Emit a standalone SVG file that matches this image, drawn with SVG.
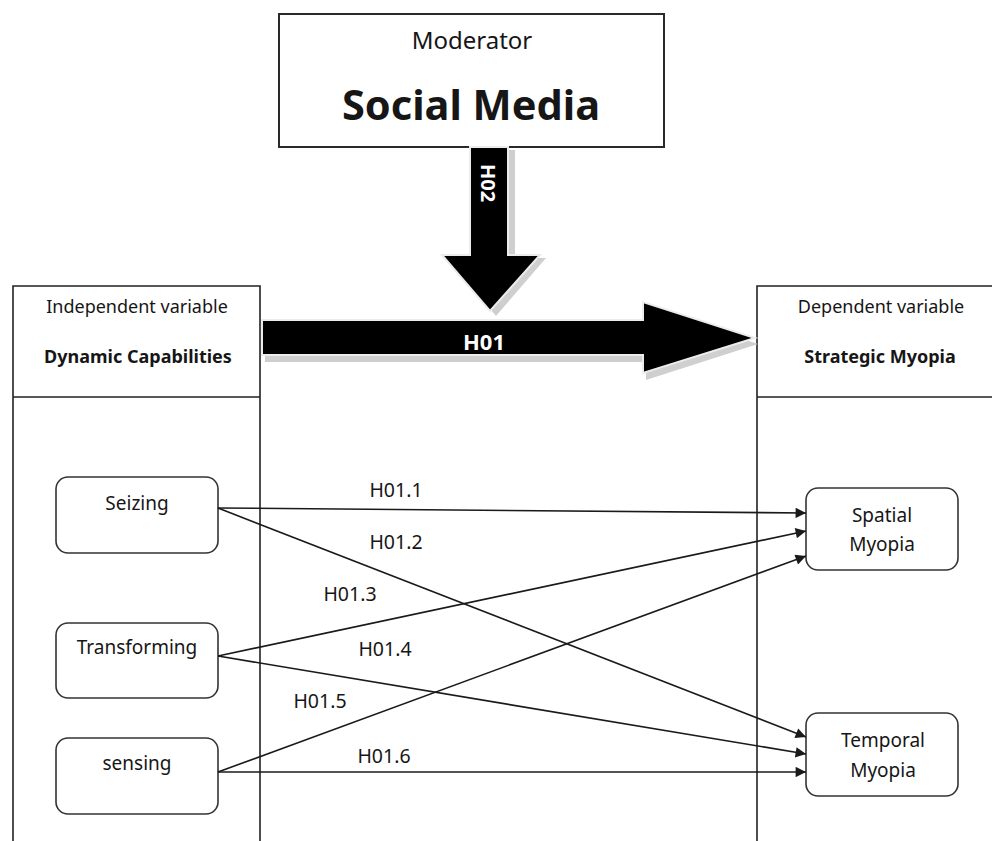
<svg xmlns="http://www.w3.org/2000/svg" width="992" height="841" viewBox="0 0 992 841">
<defs>
<style>
.t{font-family:"Noto Sans","Open Sans","Liberation Sans",sans-serif;fill:#161616;text-anchor:middle}
.b{font-weight:bold}
.box{fill:#fff;stroke:#333;stroke-width:1.6}
.col{fill:none;stroke:#222;stroke-width:1.6}
.con{fill:none;stroke:#1a1a1a;stroke-width:1.6;marker-end:url(#ah)}
.lbl{font-size:19.5px}
.nd{font-size:19px}
.big{fill:#000;stroke:#ececec;stroke-width:2}
.shadow{fill:#cfcfcf}
</style>
<marker id="ah" viewBox="0 0 10 10" refX="10" refY="5" markerWidth="7.5" markerHeight="6.5" markerUnits="strokeWidth" orient="auto">
<path d="M0,0 L10,5 L0,10 z" fill="#1a1a1a"/>
</marker>
</defs>
<rect width="992" height="841" fill="#fff"/>

<g id="independent-column">
<path class="col" d="M13,841 V286 H260 V841 M13,397 H260"/>
<text class="t" x="137" y="313" font-size="18">Independent variable</text>
<text class="t b" x="138" y="363" font-size="18">Dynamic Capabilities</text>
</g>

<g id="dependent-column">
<path class="col" d="M757,841 V286 H992 M757,397 H992"/>
<text class="t" x="881" y="313" font-size="18">Dependent variable</text>
<text class="t b" x="880" y="363" font-size="18">Strategic Myopia</text>
</g>

<g id="moderator">
<rect x="279" y="14" width="385" height="133" fill="#fff" stroke="#2a2a2a" stroke-width="2"/>
<text class="t" x="472" y="49" font-size="24">Moderator</text>
<text class="t b" x="471" y="120" font-size="42" textLength="258" lengthAdjust="spacingAndGlyphs">Social Media</text>
</g>

<g id="arrow-H02">
<polygon class="shadow" points="476,150 515,150 515,258 546,258 496,316 448,258 476,258"/>
<polygon class="big" points="470,147 508,147 508,255 540,255 490,311 442,255 470,255"/>
<text class="t b" x="0" y="0" font-size="20" transform="translate(481,183) rotate(90)" style="fill:#fff">H02</text>
</g>

<g id="arrow-H01">
<polygon class="shadow" points="265,326 646,326 646,308 758,344 646,380 646,362 265,362"/>
<polygon class="big" points="262,320 643,320 643,302 755,338 643,373 643,355 262,355"/>
<text class="t b" x="484" y="350" font-size="22" style="fill:#fff">H01</text>
</g>

<g id="seizing">
<rect class="box" x="56" y="477" width="162" height="76" rx="12"/>
<text class="t nd" x="137" y="510">Seizing</text>
</g>
<g id="transforming">
<rect class="box" x="56" y="623" width="162" height="75" rx="12"/>
<text class="t nd" x="137" y="654">Transforming</text>
</g>
<g id="sensing">
<rect class="box" x="56" y="738" width="162" height="76" rx="12"/>
<text class="t nd" x="137" y="770">sensing</text>
</g>
<g id="spatial-myopia">
<rect class="box" x="806" y="488" width="152" height="82" rx="12"/>
<text class="t nd" x="882" y="522">Spatial</text>
<text class="t nd" x="882" y="551">Myopia</text>
</g>
<g id="temporal-myopia">
<rect class="box" x="806" y="713" width="152" height="83" rx="12"/>
<text class="t nd" x="883" y="747">Temporal</text>
<text class="t nd" x="883" y="777">Myopia</text>
</g>

<g id="connectors">
<line class="con" x1="218" y1="508" x2="806" y2="513"/>
<line class="con" x1="218" y1="508" x2="806" y2="737"/>
<line class="con" x1="218" y1="656" x2="806" y2="531"/>
<line class="con" x1="218" y1="656" x2="806" y2="754"/>
<line class="con" x1="218" y1="772" x2="806" y2="556"/>
<line class="con" x1="218" y1="772" x2="806" y2="772"/>
<text class="t lbl" x="396" y="497">H01.1</text>
<text class="t lbl" x="396" y="549">H01.2</text>
<text class="t lbl" x="350" y="601">H01.3</text>
<text class="t lbl" x="385" y="656">H01.4</text>
<text class="t lbl" x="320" y="708">H01.5</text>
<text class="t lbl" x="384" y="763">H01.6</text>
</g>
</svg>
